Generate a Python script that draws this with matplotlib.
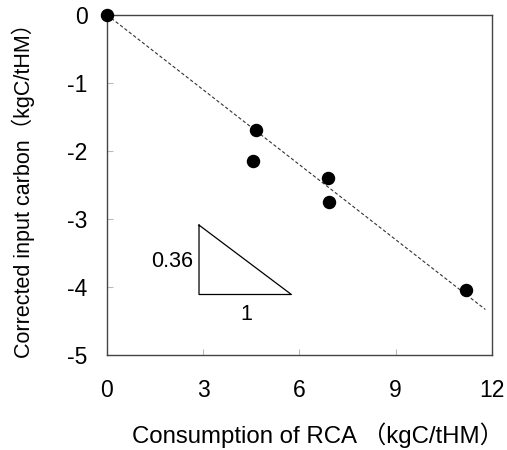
import numpy as np
import matplotlib.pyplot as plt

plt.rcParams['font.family'] = ['Liberation Sans', 'Noto Sans CJK SC']
plt.rcParams['axes.unicode_minus'] = False

# data
rca = [0.0, 4.64, 4.54, 6.88, 6.93, 11.21]
carbon = [0.0, -1.69, -2.15, -2.40, -2.75, -4.04]
slope = -0.367
fit_x = [0.0, 11.8]

x_ticks = [0, 3, 6, 9, 12]
y_ticks = [0, -1, -2, -3, -4, -5]

# slope triangle
tri_x = [2.87, 2.87, 5.75, 2.87]
tri_y = [-3.09, -4.11, -4.11, -3.09]

fig = plt.figure(figsize=(5.07, 4.5), dpi=100)
ax = fig.add_axes([0.211, 0.211, 0.759, 0.756])

ax.plot(fit_x, [slope * v for v in fit_x], color='#333333', linestyle=(0, (3, 2)),
        linewidth=0.8, zorder=2)
ax.scatter(rca, carbon, s=75, color='black', zorder=3, clip_on=False)
ax.plot(tri_x, tri_y, color='black', linewidth=0.9)
ax.text(2.68, -3.62, '0.36', ha='right', va='center', fontsize=15.5)
ax.text(4.33, -4.4, '1', ha='center', va='center', fontsize=15.5)

ax.set_xlim(0, 12)
ax.set_ylim(-5, 0)
ax.set_xticks(x_ticks)
ax.set_yticks(y_ticks)
ax.tick_params(direction='in', length=4, color='#bbbbbb', labelsize=16.5)
ax.tick_params(axis='x', pad=17)
ax.tick_params(axis='y', pad=14)
for sp in ax.spines.values():
    sp.set_color('#444444')
    sp.set_linewidth(1.0)

ax.set_xlabel('Consumption of RCA （kgC/tHM）', fontsize=17.3, va='center')
ax.xaxis.set_label_coords(0.548, -0.235)
ax.set_ylabel('Corrected input carbon（kgC/tHM）', fontsize=15.5, labelpad=23)

fig.savefig('out.png', dpi=100)
